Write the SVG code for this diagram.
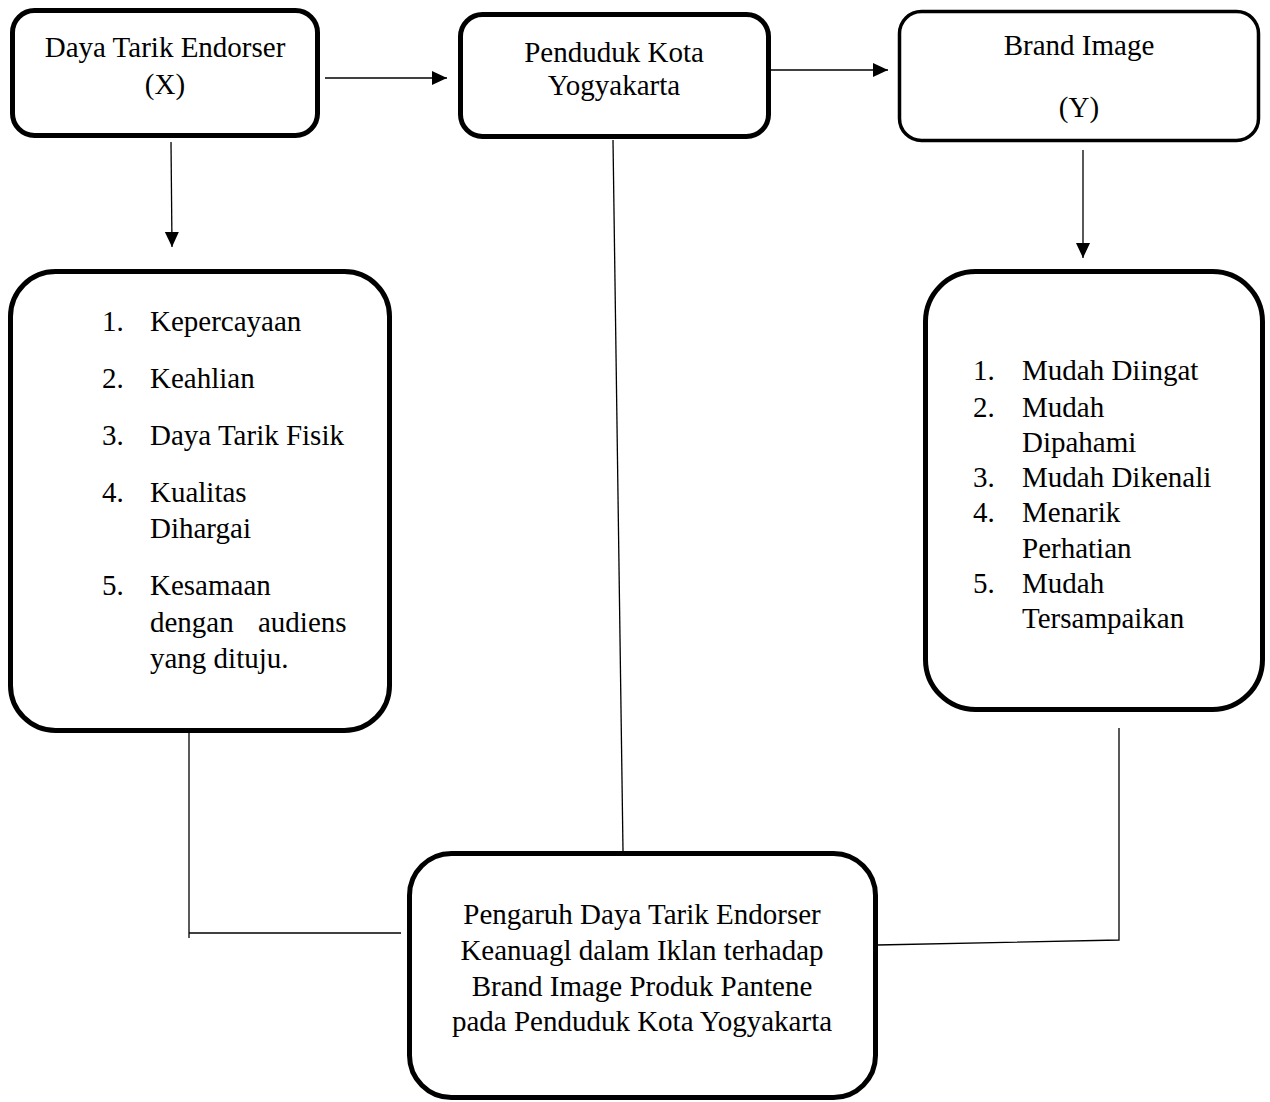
<svg xmlns="http://www.w3.org/2000/svg" width="1270" height="1102" viewBox="0 0 1270 1102">
<style>
.box{fill:#fff;stroke:#000;stroke-width:5}
.thin{stroke-width:3.5}
.t{font-family:"Liberation Serif","Times New Roman",serif;font-size:29px;fill:#000}
.c{text-anchor:middle}
.ln{fill:none;stroke:#000;stroke-width:1.3}
</style>
<defs>
<marker id="ah" markerUnits="userSpaceOnUse" markerWidth="16" markerHeight="16" refX="15" refY="7" orient="auto">
<path d="M0,0 L15,7 L0,14 Z" fill="#000"/>
</marker>
</defs>
<g id="connectors">
<line class="ln" x1="325" y1="78" x2="447" y2="78" marker-end="url(#ah)"/>
<line class="ln" x1="770" y1="70" x2="888" y2="70" marker-end="url(#ah)"/>
<line class="ln" x1="171" y1="142" x2="172" y2="247" marker-end="url(#ah)"/>
<line class="ln" x1="1083" y1="150" x2="1083" y2="258" marker-end="url(#ah)"/>
<polyline class="ln" points="189,732 189,938"/>
<line class="ln" x1="189" y1="933" x2="401" y2="933"/>
<line class="ln" x1="613" y1="140" x2="623" y2="851"/>
<polyline class="ln" points="1119,728 1119,940 877,945"/>
</g>
<g id="node-x">
<rect class="box" x="12.5" y="10.5" width="305" height="125" rx="22"/>
<text class="t c" x="165" y="57">Daya Tarik Endorser</text>
<text class="t c" x="165" y="94">(X)</text>
</g>
<g id="node-penduduk">
<rect class="box" x="460.5" y="14.5" width="308" height="122" rx="22"/>
<text class="t c" x="614" y="62">Penduduk Kota</text>
<text class="t c" x="614" y="95">Yogyakarta</text>
</g>
<g id="node-y">
<rect class="box thin" x="899.5" y="11.5" width="359" height="129" rx="22"/>
<text class="t c" x="1079" y="55">Brand Image</text>
<text class="t c" x="1079" y="117">(Y)</text>
</g>
<g id="node-x-indicators">
<rect class="box" x="10.5" y="271.5" width="379" height="459" rx="45"/>
<text class="t" x="102" y="331">1.</text><text class="t" x="150" y="331">Kepercayaan</text>
<text class="t" x="102" y="388">2.</text><text class="t" x="150" y="388">Keahlian</text>
<text class="t" x="102" y="445">3.</text><text class="t" x="150" y="445">Daya Tarik Fisik</text>
<text class="t" x="102" y="502">4.</text><text class="t" x="150" y="502">Kualitas</text>
<text class="t" x="150" y="538">Dihargai</text>
<text class="t" x="102" y="595">5.</text><text class="t" x="150" y="595">Kesamaan</text>
<text class="t" x="150" y="632" word-spacing="17">dengan audiens</text>
<text class="t" x="150" y="668">yang dituju.</text>
</g>
<g id="node-y-indicators">
<rect class="box" x="925.5" y="271.5" width="337" height="438" rx="50"/>
<text class="t" x="973" y="380">1.</text><text class="t" x="1022" y="380">Mudah Diingat</text>
<text class="t" x="973" y="417">2.</text><text class="t" x="1022" y="417">Mudah</text>
<text class="t" x="1022" y="452">Dipahami</text>
<text class="t" x="973" y="487">3.</text><text class="t" x="1022" y="487">Mudah Dikenali</text>
<text class="t" x="973" y="522">4.</text><text class="t" x="1022" y="522">Menarik</text>
<text class="t" x="1022" y="558">Perhatian</text>
<text class="t" x="973" y="593">5.</text><text class="t" x="1022" y="593">Mudah</text>
<text class="t" x="1022" y="628">Tersampaikan</text>
</g>
<g id="node-title">
<rect class="box" x="409.5" y="853.5" width="466" height="244" rx="42"/>
<text class="t c" x="642" y="924">Pengaruh Daya Tarik Endorser</text>
<text class="t c" x="642" y="960">Keanuagl dalam Iklan terhadap</text>
<text class="t c" x="642" y="996">Brand Image Produk Pantene</text>
<text class="t c" x="642" y="1031">pada Penduduk Kota Yogyakarta</text>
</g>
</svg>
